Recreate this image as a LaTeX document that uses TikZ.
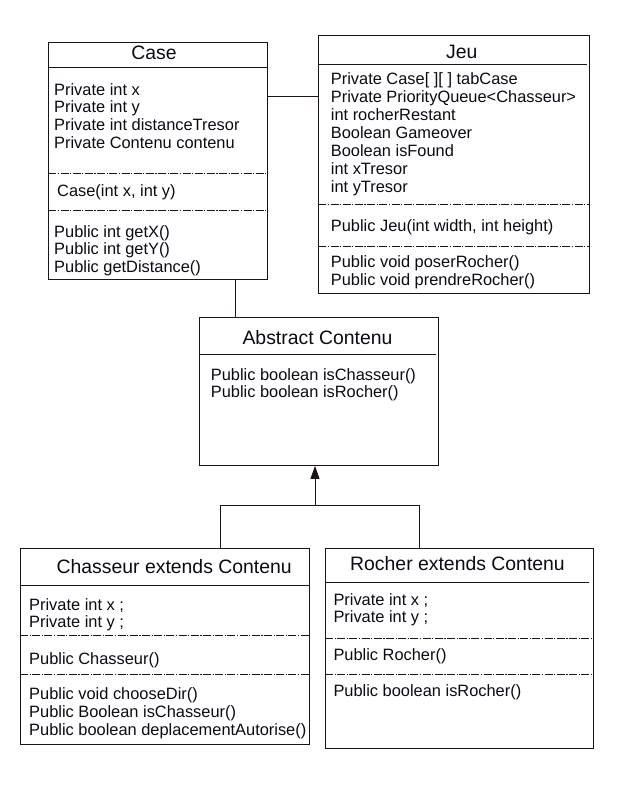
\documentclass[tikz,border=0pt]{standalone}
\usepackage{fontspec}
\setmainfont{Liberation Sans}
\usetikzlibrary{arrows.meta}
\definecolor{bordercol}{HTML}{1E1216}
\definecolor{textcol}{HTML}{0A0A14}
\tikzset{
  umlbox/.style={draw=bordercol, line width=0.9pt, rectangle, inner sep=0pt, anchor=north west},
  txt/.style={anchor=base west, inner sep=0pt, text=textcol, font=\fontsize{16.4}{18}\selectfont},
  ttl/.style={anchor=base, inner sep=0pt, text=textcol, font=\fontsize{19.4}{22}\selectfont},
  sepline/.style={draw=bordercol, line width=0.7pt, dash pattern=on 8pt off 1.5pt on 1.2pt off 1.5pt},
  ttlline/.style={draw=bordercol, line width=0.9pt},
  conn/.style={draw=bordercol, line width=0.9pt}
}
\begin{document}
\begin{tikzpicture}[x=1pt,y=-1pt]
\useasboundingbox (0,0) rectangle (618,795);

% ---------- Case ----------
\node[umlbox, minimum width=218.4pt, minimum height=237.6pt] (case) at (48.3,41.7) {};
\node[ttl] (casettl) at (154,59.5) {Case};
\draw[ttlline] (48.3,67.3) -- (266.7,67.3);
\node[txt] (ca1) at (54,95) {Private int x};
\node[txt] (ca2) at (54,112.8) {Private int y};
\node[txt] (ca3) at (54,130.6) {Private int distanceTresor};
\node[txt] (ca4) at (54,148.4) {Private Contenu contenu};
\draw[sepline] (48.3,173.3) -- (266.7,173.3);
\node[txt] (ca5) at (57,196) {Case(int x, int y)};
\draw[sepline] (48.3,210) -- (266.7,210);
\node[txt] (ca6) at (54,237) {Public int getX()};
\node[txt] (ca7) at (54,254.6) {Public int getY()};
\node[txt] (ca8) at (54,272.2) {Public getDistance()};

% ---------- Jeu ----------
\node[umlbox, minimum width=271pt, minimum height=258.3pt] (jeu) at (318.3,35) {};
\node[ttl] (jeuttl) at (461.7,58.3) {Jeu};
\draw[ttlline] (318.3,64.7) -- (586.7,64.7);
\node[txt] (j1) at (330.7,84.3) {Private Case[ ][ ] tabCase};
\node[txt] (j2) at (330.7,102.3) {Private PriorityQueue<Chasseur>};
\node[txt] (j3) at (330.7,120.3) {int rocherRestant};
\node[txt] (j4) at (330.7,138.3) {Boolean Gameover};
\node[txt] (j5) at (330.7,156.3) {Boolean isFound};
\node[txt] (j6) at (330.7,174.3) {int xTresor};
\node[txt] (j7) at (330.7,192.3) {int yTresor};
\draw[sepline] (318.3,204.3) -- (589.3,204.3);
\node[txt] (j8) at (330.7,231.3) {Public Jeu(int width, int height)};
\draw[sepline] (318.3,246.7) -- (589.3,246.7);
\node[txt] (j9) at (330.7,267.3) {Public void poserRocher()};
\node[txt] (j10) at (330.7,285.2) {Public void prendreRocher()};

% ---------- Abstract Contenu ----------
\node[umlbox, minimum width=239pt, minimum height=147.7pt] (contenu) at (199.3,317.3) {};
\node[ttl] (contttl) at (317.5,344) {Abstract Contenu};
\draw[ttlline] (199.3,354) -- (435.7,354);
\node[txt] (co1) at (210.7,380) {Public boolean isChasseur()};
\node[txt] (co2) at (210.7,397.6) {Public boolean isRocher()};

% ---------- Chasseur ----------
\node[umlbox, minimum width=289.3pt, minimum height=195.7pt] (chasseur) at (20,548.3) {};
\node[ttl] (chttl) at (174.2,573.3) {Chasseur extends Contenu};
\draw[ttlline] (20,585) -- (309.3,585);
\node[txt] (ch1) at (29,610) {Private int x ;};
\node[txt] (ch2) at (29,627.6) {Private int y ;};
\draw[sepline] (20,635) -- (309.3,635);
\node[txt] (ch3) at (29,664) {Public Chasseur()};
\draw[sepline] (20,674.3) -- (309.3,674.3);
\node[txt] (ch4) at (29,699.3) {Public void chooseDir()};
\node[txt] (ch5) at (29,717.1) {Public Boolean isChasseur()};
\node[txt] (ch6) at (29,735) {Public boolean deplacementAutorise()};

% ---------- Rocher ----------
\node[umlbox, minimum width=267.7pt, minimum height=200pt] (rocher) at (325,548.3) {};
\node[ttl] (rottl) at (457.5,570.7) {Rocher extends Contenu};
\draw[ttlline] (325,582.3) -- (589.3,582.3);
\node[txt] (r1) at (333.3,605) {Private int x ;};
\node[txt] (r2) at (333.3,622.7) {Private int y ;};
\draw[sepline] (325,638.3) -- (592.7,638.3);
\node[txt] (r3) at (333.3,660) {Public Rocher()};
\draw[sepline] (325,674.3) -- (592.7,674.3);
\node[txt] (r4) at (333.3,696.7) {Public boolean isRocher()};

% ---------- Connectors ----------
\coordinate (cjy) at (0,96);
\draw[conn] (case.east |- cjy) -- (jeu.west |- cjy);
\coordinate (ccx) at (235.5,0);
\draw[conn] (case.south -| ccx) -- (contenu.north -| ccx);
\coordinate (hub) at (315,505);
\coordinate (hl) at (220.5,505);
\coordinate (hr) at (419.5,505);
\draw[conn] (chasseur.north -| hl) -- (hl) -- (hr) -- (rocher.north -| hr);
\draw[conn, -{Triangle[width=9pt,length=13pt]}] (hub) -- (contenu.south -| hub);
\end{tikzpicture}
\end{document}
